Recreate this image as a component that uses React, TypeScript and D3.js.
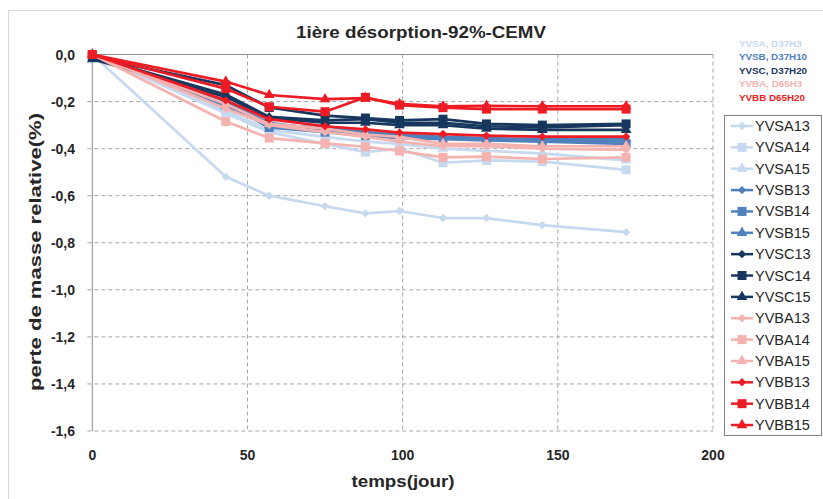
import React from "react";
import * as d3 from "d3";

const days = [0, 43, 57, 75, 88, 99, 113, 127, 145, 172];

const seriesNames = [
  "YVSA13", "YVSA14", "YVSA15",
  "YVSB13", "YVSB14", "YVSB15",
  "YVSC13", "YVSC14", "YVSC15",
  "YVBA13", "YVBA14", "YVBA15",
  "YVBB13", "YVBB14", "YVBB15",
];

const YVSA13 = [0, -0.52, -0.6, -0.645, -0.675, -0.665, -0.695, -0.695, -0.725, -0.755];
const YVSA14 = [0, -0.25, -0.33, -0.38, -0.415, -0.4, -0.46, -0.45, -0.455, -0.49];
const YVSA15 = [0, -0.24, -0.32, -0.35, -0.37, -0.38, -0.4, -0.41, -0.42, -0.45];
const YVSB13 = [0, -0.2, -0.29, -0.32, -0.335, -0.35, -0.355, -0.36, -0.365, -0.37];
const YVSB14 = [0, -0.21, -0.31, -0.33, -0.345, -0.355, -0.36, -0.365, -0.37, -0.38];
const YVSB15 = [0, -0.22, -0.3, -0.31, -0.33, -0.34, -0.35, -0.355, -0.36, -0.36];
const YVSC13 = [-0.01, -0.17, -0.265, -0.28, -0.275, -0.29, -0.29, -0.305, -0.31, -0.3];
const YVSC14 = [-0.01, -0.13, -0.225, -0.26, -0.27, -0.28, -0.275, -0.295, -0.3, -0.295];
const YVSC15 = [-0.02, -0.18, -0.27, -0.29, -0.29, -0.3, -0.3, -0.315, -0.32, -0.32];
const YVBA13 = [0, -0.23, -0.3, -0.33, -0.35, -0.37, -0.39, -0.39, -0.4, -0.405];
const YVBA14 = [0, -0.285, -0.355, -0.378, -0.392, -0.41, -0.437, -0.434, -0.444, -0.437];
const YVBA15 = [0, -0.21, -0.295, -0.315, -0.34, -0.35, -0.38, -0.38, -0.39, -0.39];
const YVBB13 = [0, -0.195, -0.275, -0.305, -0.318, -0.332, -0.338, -0.345, -0.349, -0.349];
const YVBB14 = [0, -0.145, -0.222, -0.243, -0.182, -0.215, -0.226, -0.232, -0.232, -0.232];
const YVBB15 = [0, -0.115, -0.172, -0.19, -0.185, -0.21, -0.22, -0.218, -0.22, -0.22];

const seriesValues = [
  YVSA13, YVSA14, YVSA15,
  YVSB13, YVSB14, YVSB15,
  YVSC13, YVSC14, YVSC15,
  YVBA13, YVBA14, YVBA15,
  YVBB13, YVBB14, YVBB15,
];

const xTicks = [0, 50, 100, 150, 200];
const yTicks = [0, -0.2, -0.4, -0.6, -0.8, -1.0, -1.2, -1.4, -1.6];

const groupLabels = ["YVSA, D37H3", "YVSB, D37H10", "YVSC, D37H20", "YVBA, D65H3", "YVBB D65H20"];
const groupColors = ["#c6d9f0", "#4f81bd", "#17375e", "#f5b3b0", "#ed1c24"];
const markerTypes = ["diamond", "square", "triangle"];

const FONT = "'Liberation Sans', Arial, sans-serif";

function Marker({ type, x, y, color }: { type: string; x: number; y: number; color: string }) {
  if (type === "diamond") {
    const s = d3.symbol().type(d3.symbolDiamond2).size(45)();
    return <path d={s as string} transform={`translate(${x},${y})`} fill={color} />;
  }
  if (type === "square") {
    return <rect x={x - 4.5} y={y - 4.5} width={9} height={9} fill={color} />;
  }
  const s = d3.symbol().type(d3.symbolTriangle).size(50)();
  return <path d={s as string} transform={`translate(${x},${y})`} fill={color} />;
}

export default function App() {
  const left = 92.3, right = 713, top = 54.5, bottom = 431;
  const x = d3.scaleLinear().domain([0, 200]).range([left, right]);
  const y = d3.scaleLinear().domain([0, -1.6]).range([top, bottom]);
  const line = d3.line<[number, number]>().x((d) => x(d[0])).y((d) => y(d[1]));
  const fmt = (v: number) => d3.format(".1f")(v).replace(".", ",").replace("−", "-");

  return (
    <svg width={823} height={499} style={{ position: "absolute", left: 0, top: 0, background: "#fff" }}>
      <rect x={8.5} y={10.5} width={830} height={500} fill="#fff" stroke="#d9d9d9" />
      <text x={421} y={38} textAnchor="middle" fontFamily={FONT} fontWeight="bold" fontSize={17} fill="#262626"
        textLength={250} lengthAdjust="spacingAndGlyphs">
        1ière désorption-92%-CEMV
      </text>
      {/* gridlines */}
      {yTicks.map((t) => (
        <line key={"gy" + t} x1={left - 5} x2={right} y1={y(t)} y2={y(t)}
          stroke={t === 0 ? "#8c8c8c" : "#a6a6a6"} strokeWidth={1}
          strokeDasharray={t === 0 ? undefined : "4,3"} />
      ))}
      {xTicks.slice(1).map((t) => (
        <line key={"gx" + t} x1={x(t)} x2={x(t)} y1={top} y2={bottom}
          stroke="#a6a6a6" strokeWidth={1} strokeDasharray="4,3" />
      ))}
      <line x1={left} x2={left} y1={top} y2={bottom} stroke="#8c8c8c" strokeWidth={1} />
      {/* tick labels */}
      {yTicks.map((t) => (
        <text key={"ty" + t} x={75} y={y(t) + 5} textAnchor="end" fontFamily={FONT}
          fontWeight="bold" fontSize={14} fill="#262626">{fmt(t)}</text>
      ))}
      {xTicks.map((t) => (
        <text key={"tx" + t} x={x(t)} y={460} textAnchor="middle" fontFamily={FONT}
          fontWeight="bold" fontSize={14} fill="#262626">{t}</text>
      ))}
      <text x={403} y={487} textAnchor="middle" fontFamily={FONT} fontWeight="bold" fontSize={17} fill="#262626"
        textLength={103} lengthAdjust="spacingAndGlyphs">
        temps(jour)
      </text>
      <text transform={`translate(41,252) rotate(-90)`} textAnchor="middle"
        fontFamily={FONT} fontWeight="bold" fontSize={17} fill="#262626"
        textLength={278} lengthAdjust="spacingAndGlyphs">
        perte de masse relative(%)
      </text>
      {/* series */}
      {seriesValues.map((vals, i) => {
        const color = groupColors[Math.floor(i / 3)];
        const pts = days.map((d, j) => [d, vals[j]] as [number, number]);
        return (
          <g key={seriesNames[i]}>
            <path d={line(pts) as string} fill="none" stroke={color} strokeWidth={2.7} strokeLinejoin="round" />
            {pts.map((p, j) => (
              <Marker key={j} type={markerTypes[i % 3]} x={x(p[0])} y={y(p[1])} color={color} />
            ))}
          </g>
        );
      })}
      {/* group labels */}
      {groupLabels.map((g, i) => (
        <text key={g} x={739} y={47 + i * 13.4} fontFamily={FONT} fontWeight="bold" fontSize={9.8} fill={groupColors[i]}>
          {g}
        </text>
      ))}
      {/* legend */}
      <rect x={724.5} y={115.5} width={97} height={320} fill="#fff" stroke="#808080" />
      {seriesNames.map((n, i) => {
        const ly = 126 + i * 21.36;
        const color = groupColors[Math.floor(i / 3)];
        return (
          <g key={"lg" + n}>
            <line x1={731} x2={753} y1={ly} y2={ly} stroke={color} strokeWidth={2.5} />
            <Marker type={markerTypes[i % 3]} x={742} y={ly} color={color} />
            <text x={755} y={ly + 5} fontFamily={FONT} fontSize={14.5} fill="#262626">{n}</text>
          </g>
        );
      })}
    </svg>
  );
}
